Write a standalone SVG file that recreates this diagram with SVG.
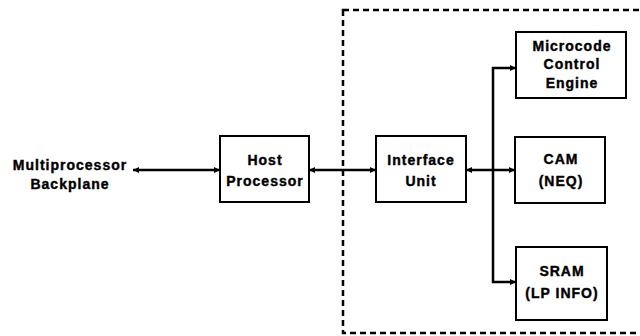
<svg xmlns="http://www.w3.org/2000/svg" width="640" height="336" viewBox="0 0 640 336">
<style>
.box{fill:#fff;stroke:#000;stroke-width:2}
.t{font-family:"Liberation Sans",Arial,sans-serif;font-weight:bold;font-size:14px;fill:#000;stroke:#000;stroke-width:0.4;text-anchor:middle;letter-spacing:1px}
.c{fill:none;stroke:#000;stroke-width:2.5}
.dash{fill:none;stroke:#000;stroke-width:2.5;stroke-dasharray:6 4}
</style>
<defs>
<marker id="ah" viewBox="0 0 10 10" refX="10" refY="5" markerWidth="2.4" markerHeight="2.4" orient="auto-start-reverse" markerUnits="strokeWidth">
<path d="M0,0 L10,5 L0,10 z" fill="#000"/>
</marker>
</defs>
<rect class="dash" x="343" y="10" width="310" height="323"/>
<g id="connectors">
<line class="c" x1="133" y1="170" x2="220" y2="170" marker-start="url(#ah)" marker-end="url(#ah)"/>
<line class="c" x1="309" y1="170" x2="376" y2="170" marker-start="url(#ah)" marker-end="url(#ah)"/>
<line class="c" x1="466" y1="170" x2="515" y2="170" marker-start="url(#ah)" marker-end="url(#ah)"/>
<polyline class="c" points="516,68 493,68 493,282 516,282" marker-start="url(#ah)" marker-end="url(#ah)"/>
</g>
<g id="backplane">
<text class="t" x="70" y="170">Multiprocessor</text>
<text class="t" x="70" y="189">Backplane</text>
</g>
<g id="host">
<rect class="box" x="220" y="136" width="89" height="66"/>
<text class="t" x="265" y="165">Host</text>
<text class="t" x="265" y="186">Processor</text>
</g>
<g id="interface">
<rect class="box" x="376" y="136" width="90" height="66"/>
<text class="t" x="421" y="165">Interface</text>
<text class="t" x="421" y="186">Unit</text>
</g>
<g id="microcode">
<rect class="box" x="516" y="32" width="110" height="66"/>
<text class="t" x="572" y="51">Microcode</text>
<text class="t" x="572" y="69">Control</text>
<text class="t" x="572" y="88">Engine</text>
</g>
<g id="cam">
<rect class="box" x="515" y="137" width="90" height="66"/>
<text class="t" x="561" y="164">CAM</text>
<text class="t" x="561" y="186">(NEQ)</text>
</g>
<g id="sram">
<rect class="box" x="516" y="247" width="91" height="73"/>
<text class="t" x="562" y="276">SRAM</text>
<text class="t" x="562" y="298">(LP INFO)</text>
</g>
</svg>
